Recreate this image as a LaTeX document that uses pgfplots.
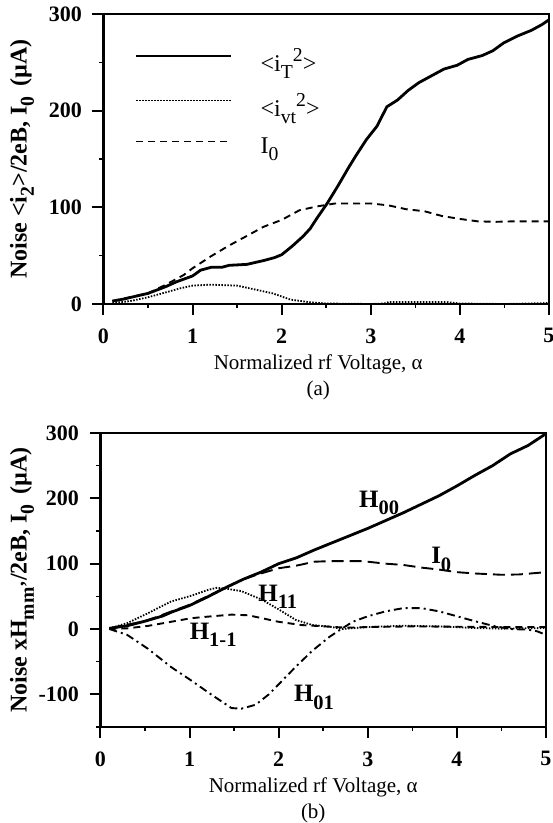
\documentclass[border=0pt]{standalone}
\usepackage{graphicx}
\usepackage{pgfplots}
\pgfplotsset{compat=1.18}
\usepackage{fontspec}
\setmainfont{Liberation Serif}

\newcommand\dsub[1]{\raisebox{-0.3em}{\scalebox{0.82}{#1}}}
\newcommand\dsup[1]{\raisebox{0.42em}{\scalebox{0.82}{#1}}}

\pgfplotstableread{
x y
0.1 3
0.22 5
0.5 11
0.7 18
0.82 23
1.0 29
1.09 35
1.21 38
1.33 38
1.41 40
1.61 41
1.8 45
1.92 48
2.0 51
2.12 60
2.24 70
2.32 78
2.39 88
2.51 104
2.63 122
2.75 141
2.83 153
2.95 170
3.07 184
3.18 204
3.3 211
3.42 221
3.54 229
3.7 237
3.82 243
3.97 247
4.09 253
4.25 257
4.37 262
4.49 270
4.64 277
4.8 283
4.92 289
5.0 294
}\iT

\pgfplotstableread{
x y
0.1 1
0.3 3
0.5 7
0.7 12
0.85 16
1.0 19
1.2 20
1.5 19
1.7 15
1.9 11
2.1 4.5
2.3 2
2.5 0.5
3.0 0
3.15 0.5
3.2 2
3.6 2
3.85 2
4.0 0.5
4.5 0
5.0 1
}\ivt

\pgfplotstableread{
x y
0.1 3
0.2 5
0.5 11
0.7 20
0.9 30
1.0 37
1.2 49
1.4 60
1.6 70
1.8 80
2.0 87
2.2 97
2.4 101
2.6 104
2.8 104
3.0 104
3.2 102
3.4 98
3.6 96
3.8 91
4.0 88
4.2 85.5
4.4 85
4.6 85.5
5.0 85.5
}\IOa

\pgfplotstableread{
x y
0.1 1
0.3 5
0.5 12
0.7 20
0.8 26
1.0 36
1.2 49
1.4 63
1.6 76
1.8 87
2.0 100
2.2 109
2.4 121
2.6 132
2.8 143
3.0 154
3.2 166
3.4 178
3.6 191
3.8 204
4.0 219
4.2 235
4.4 250
4.6 268
4.8 281
5.0 299
}\Hzz

\pgfplotstableread{
x y
0.1 1
0.5 12
1.0 37
1.2 50
1.4 63
1.6 76
1.8 85
2.0 93
2.2 97
2.4 103
2.6 104
2.9 104
3.0 103
3.2 100
3.4 98
3.6 94
3.8 91
4.0 87
4.2 85
4.5 83
4.7 83.5
5.0 87
}\IOb

\pgfplotstableread{
x y
0.1 1
0.3 9
0.53 24
0.79 42
1.02 51
1.21 60
1.3 63
1.4 62
1.58 58
1.81 45
2.0 30
2.19 14
2.38 6
2.57 3.6
2.72 0
3.0 3
3.4 5
3.8 4
4.2 1.5
4.5 0.5
5.0 1.5
}\Hoo

\pgfplotstableread{
x y
0.1 0
0.3 1
0.53 4.7
0.79 11
1.02 16.6
1.21 19
1.47 22
1.66 21
1.81 16.6
2.0 11
2.26 6
2.57 3.6
2.75 2
3.0 3
3.5 4
4.0 3.5
4.5 3
5.0 3
}\Hom

\pgfplotstableread{
x y
0.1 0
0.3 -9
0.53 -30
0.79 -58
1.02 -79
1.24 -100
1.47 -121
1.58 -122
1.74 -116
1.89 -100
2.04 -79
2.19 -58
2.38 -33
2.57 -12
2.68 -2
2.83 11
3.0 19.5
3.2 27
3.4 32
3.6 32
3.8 27
4.0 19.5
4.2 12
4.4 5
4.6 0
4.8 -1
4.9 -3.5
5.0 -9
}\Hzo

\pgfplotsset{
  myax/.style={
    scale only axis,
    xmin=0, xmax=5,
    xtick={0,1,2,3,4,5},
    minor xtick={0.5,1.5,2.5,3.5,4.5},
    tick align=outside,
    xtick pos=bottom, ytick pos=left,
    major tick length=11pt, minor tick length=4pt,
    major tick style={line width=2pt, black},
    minor tick style={line width=1.5pt, black},
    axis line style={line width=2.6pt},
    tick label style={font=\bfseries\fontsize{22}{24}\selectfont},
    xticklabel style={yshift=-10pt},
    yticklabel style={xshift=-7pt},
    /pgf/number format/assume math mode=true,
    xlabel style={font=\fontsize{21}{26}\selectfont, align=center,
      at={(axis description cs:0.5,0)}, anchor=north, inner sep=0pt},
  },
}
\tikzset{lab/.style={anchor=base west, font=\bfseries\fontsize{25}{28}\selectfont, inner sep=0pt}}

\begin{document}
\begin{tikzpicture}
\path[use as bounding box] (0pt,0pt) rectangle (553pt,823pt);

% Panel (a)
\begin{axis}[myax,
  at={(103.5pt,519pt)}, anchor=south west,
  width=445.5pt, height=290pt,
  ymin=0, ymax=300,
  ytick={0,100,200,300}, minor ytick={50,150,250},
  xlabel={Normalized rf Voltage, α\\(a)},
  xlabel style={yshift=-51pt, xshift=-8pt},
  ylabel={Noise <i\dsub{2}>/2eB, I\dsub{0}\ \,(µA)},
  every axis y label/.style={at={(axis description cs:0,0.5)}, xshift=-81.5pt,
     rotate=90, anchor=center, font=\bfseries\fontsize{24}{26}\selectfont},
  legend style={at={(axis description cs:0.07,0.888)}, anchor=north west,
    draw=none, fill=none, font=\fontsize{24}{26}\selectfont,
    row sep=16pt, inner sep=0pt},
  legend cell align=left,
  legend image code/.code={\draw[#1] (0pt,5pt) -- (95pt,5pt);},
]
\addplot[line width=2.8pt, black] table[x=x,y=y] {\iT};
\addplot[line width=1.8pt, black, dash pattern=on 1.5pt off 1.5pt] table[x=x,y=y] {\ivt};
\addplot[line width=1.9pt, black, dash pattern=on 7pt off 5pt] table[x=x,y=y] {\IOa};
\legend{\hspace{26pt}<i\dsub{T}\dsup{2}>,
        \hspace{26pt}<i\dsub{vt}\dsup{2}>,
        \hspace{26pt}I\dsub{0}}
\end{axis}

% Panel (b)
\begin{axis}[myax,
  at={(100.5pt,96pt)}, anchor=south west,
  width=445.5pt, height=294pt,
  ymin=-150, ymax=300,
  ytick={-100,0,100,200,300}, minor ytick={-150,-50,50,150,250},
  xlabel={Normalized rf Voltage, α\\(b)},
  xlabel style={yshift=-51pt, xshift=-10pt},
  ylabel={Noise xH\dsub{mm'}/2eB, I\dsub{0}\ \,(µA)},
  every axis y label/.style={at={(axis description cs:0,0.5)}, xshift=-78.5pt,
     rotate=90, anchor=center, font=\bfseries\fontsize{24}{26}\selectfont},
]
\addplot[line width=2.8pt, black] table[x=x,y=y] {\Hzz};
\addplot[line width=1.9pt, black, dash pattern=on 12pt off 6pt] table[x=x,y=y] {\IOb};
\addplot[line width=1.8pt, black, dash pattern=on 1.5pt off 1.5pt] table[x=x,y=y] {\Hoo};
\addplot[line width=1.9pt, black, dash pattern=on 7pt off 5pt] table[x=x,y=y] {\Hom};
\addplot[line width=1.9pt, black, dash pattern=on 8pt off 4pt on 2pt off 4pt] table[x=x,y=y] {\Hzo};
\node[lab] at (axis cs:2.9,186) {H\dsub{00}};
\node[lab] at (axis cs:3.71,100) {I\dsub{0}};
\node[lab] at (axis cs:1.77,42.5) {H\dsub{11}};
\node[lab] at (axis cs:1.0,-16) {H\dsub{1-1}};
\node[lab] at (axis cs:2.17,-111) {H\dsub{01}};
\end{axis}
\end{tikzpicture}
\end{document}
